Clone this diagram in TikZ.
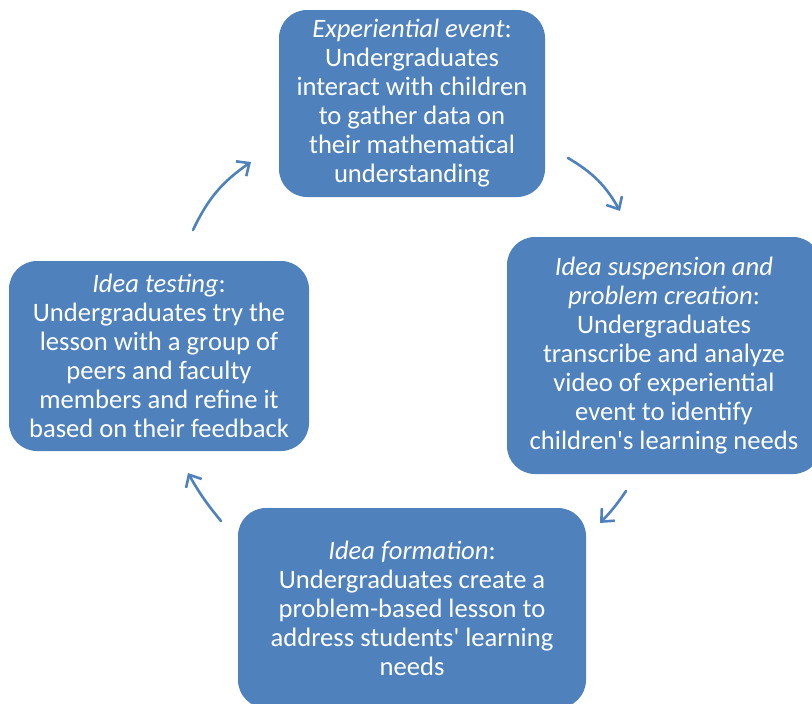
\documentclass[tikz,border=0pt]{standalone}
\usepackage{fontspec}
\setmainfont{Carlito}[Ligatures=TeXOff]
\usetikzlibrary{arrows.meta}
\definecolor{boxblue}{HTML}{4F81BD}
\tikzset{
  stage/.style={fill=boxblue, draw=none, rounded corners=28pt, text=white, align=center,
    font=\fontsize{26.6}{29}\selectfont, inner sep=0pt},
  cyc/.style={draw=boxblue, line width=2.6pt, line cap=round,
    -{Straight Barb[length=10pt,width=18pt,line width=2.6pt]}}
}
\begin{document}
\begin{tikzpicture}[x=1pt,y=-1pt]
\useasboundingbox (0,0) rectangle (812,704);
\clip (0,0) rectangle (812,704);
\node[stage, minimum width=266pt, minimum height=187pt] (top) at (412,103.5)
  {\textit{Experiential event}:\\Undergraduates\\interact with children\\to gather data on\\their mathematical\\understanding};
\node[stage, minimum width=314pt, minimum height=237pt] (right) at (664,355.5)
  {\textit{Idea suspension and}\\\textit{problem creation}:\\Undergraduates\\transcribe and analyze\\video of experiential\\event to identify\\children's learning needs};
\node[stage, minimum width=348pt, minimum height=200pt] (bottom) at (412,608)
  {\textit{Idea formation}:\\Undergraduates create a\\problem-based lesson to\\address students' learning\\needs};
\node[stage, minimum width=300pt, minimum height=190pt] (left) at (159,356)
  {\textit{Idea testing}:\\Undergraduates try the\\lesson with a group of\\peers and faculty\\members and refine it\\based on their feedback};
\coordinate (a1s) at (193,230); \coordinate (a1e) at (251,162);
\coordinate (a2s) at (568,158); \coordinate (a2e) at (620,211);
\coordinate (a3s) at (626,491); \coordinate (a3e) at (600,523);
\coordinate (a4s) at (221,521); \coordinate (a4e) at (188,473);
\draw[cyc] (a1s) to[bend left=15] (a1e);
\draw[cyc] (a2s) to[bend left=15] (a2e);
\draw[cyc] (a3s) to[bend left=5] (a3e);
\draw[cyc] (a4s) to[bend left=5] (a4e);
\end{tikzpicture}
\end{document}
